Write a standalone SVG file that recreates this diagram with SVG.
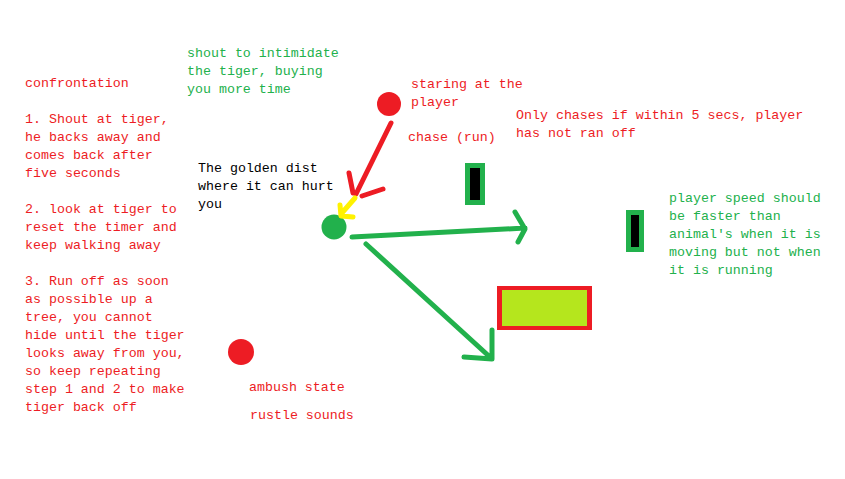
<svg xmlns="http://www.w3.org/2000/svg" width="845" height="479" viewBox="0 0 845 479">
<style>
text{font-family:"Liberation Mono","DejaVu Sans Mono",monospace;font-size:13.3px}
.r{fill:#ED1C24}.g{fill:#22B14C}.k{fill:#000}
.ln{fill:none;stroke-width:5;stroke-linecap:round;stroke-linejoin:round}
.rs{stroke:#ED1C24}.gs{stroke:#22B14C}.ys{stroke:#FFF200}
</style>
<rect width="845" height="479" fill="#fff"/>
<g id="confrontation-notes">
<text class="r" x="25" y="87">confrontation</text>
<text class="r" x="25" y="123">1. Shout at tiger,</text>
<text class="r" x="25" y="141">he backs away and</text>
<text class="r" x="25" y="159">comes back after</text>
<text class="r" x="25" y="177">five seconds</text>
<text class="r" x="25" y="213">2. look at tiger to</text>
<text class="r" x="25" y="231">reset the timer and</text>
<text class="r" x="25" y="249">keep walking away</text>
<text class="r" x="25" y="285">3. Run off as soon</text>
<text class="r" x="25" y="303">as possible up a</text>
<text class="r" x="25" y="321">tree, you cannot</text>
<text class="r" x="25" y="339">hide until the tiger</text>
<text class="r" x="25" y="357">looks away from you,</text>
<text class="r" x="25" y="375">so keep repeating</text>
<text class="r" x="25" y="393">step 1 and 2 to make</text>
<text class="r" x="25" y="411">tiger back off</text>
</g>
<g id="shout-note">
<text class="g" x="187" y="57">shout to intimidate</text>
<text class="g" x="187" y="75">the tiger, buying</text>
<text class="g" x="187" y="93">you more time</text>
</g>
<g id="staring-tiger">
<circle cx="389" cy="104" r="12" fill="#ED1C24"/>
<text class="r" x="411" y="88">staring at the</text>
<text class="r" x="411" y="106">player</text>
</g>
<g id="chase-label"><text class="r" x="408" y="141">chase (run)</text></g>
<g id="only-chases-note">
<text class="r" x="516" y="119">Only chases if within 5 secs, player</text>
<text class="r" x="516" y="137">has not ran off</text>
</g>
<g id="golden-dist-note">
<text class="k" x="198" y="172">The golden dist</text>
<text class="k" x="198" y="190">where it can hurt</text>
<text class="k" x="198" y="208">you</text>
</g>
<g id="player"><circle cx="334" cy="227" r="12.5" fill="#22B14C"/></g>
<g id="tree1">
<rect x="465" y="163" width="20" height="42" fill="#22B14C"/>
<rect x="470" y="168" width="10" height="32" fill="#000"/>
</g>
<g id="tree2">
<rect x="626" y="210" width="18" height="42" fill="#22B14C"/>
<rect x="631" y="215" width="8" height="32" fill="#000"/>
</g>
<g id="speed-note">
<text class="g" x="669" y="202">player speed should</text>
<text class="g" x="669" y="220">be faster than</text>
<text class="g" x="669" y="238">animal's when it is</text>
<text class="g" x="669" y="256">moving but not when</text>
<text class="g" x="669" y="274">it is running</text>
</g>
<g id="safe-zone">
<rect x="497" y="286" width="95" height="44" fill="#ED1C24"/>
<rect x="502" y="290" width="85" height="36" fill="#B5E61D"/>
</g>
<g id="ambush-tiger">
<circle cx="241" cy="352" r="13" fill="#ED1C24"/>
<text class="r" x="249" y="391">ambush state</text>
<text class="r" x="250" y="419">rustle sounds</text>
</g>
<g id="connectors">
<path class="ln rs" d="M391 123 L356 194 M349 173 L353 193 M383 189 L362 196"/>
<path class="ln ys" d="M355 198 L341 214 M340 205 L341 216 L353 217"/>
<path class="ln gs" d="M352 237 L525 228 M515 212 L525 229 L518 242"/>
<path class="ln gs" d="M366 244 L491 358 M492 330 L492 359 L464 357"/>
</g>
</svg>
